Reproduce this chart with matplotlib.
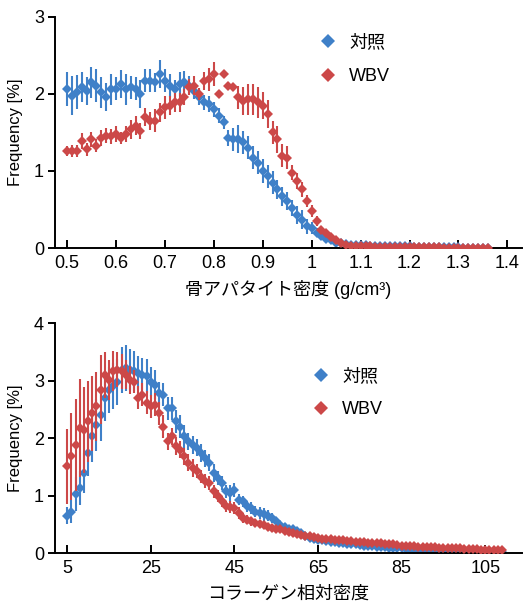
import numpy as np
import matplotlib
matplotlib.use('Agg')
import matplotlib.pyplot as plt
from matplotlib.lines import Line2D

plt.rcParams['font.family'] = ['Liberation Sans', 'Noto Sans CJK JP', 'DejaVu Sans']

BLUE = '#3f80c8'
RED = '#cc4848'

# ---- top panel: bone apatite density ----
top_x = np.round(np.arange(0.50, 1.365, 0.01), 2)
top_ticks = [0.5, 0.6, 0.7, 0.8, 0.9, 1.0, 1.1, 1.2, 1.3, 1.4]
top_ticklabels = ['0.5', '0.6', '0.7', '0.8', '0.9', '1', '1.1', '1.2', '1.3', '1.4']

ctrl_top = [2.06, 1.98, 2.02, 2.09, 2.04, 2.15, 2.11, 2.02, 1.96, 2.06,
            2.07, 2.13, 2.06, 2.09, 2.07, 2.00, 2.17, 2.17, 2.15, 2.26,
            2.17, 2.11, 2.06, 2.13, 2.15, 2.11, 2.04, 1.96, 1.89, 1.87,
            1.80, 1.72, 1.63, 1.43, 1.41, 1.42, 1.37, 1.30, 1.17, 1.11,
            1.00, 0.93, 0.85, 0.76, 0.67, 0.61, 0.52, 0.43, 0.37, 0.28,
            0.26, 0.20, 0.15, 0.12, 0.10, 0.07, 0.065, 0.05, 0.045, 0.04,
            0.04, 0.035, 0.03, 0.03, 0.03, 0.025, 0.025, 0.02, 0.02, 0.02,
            0.02, 0.015, 0.015, 0.015, 0.01, 0.01, 0.01, 0.01, 0.01, 0.008,
            0.008, 0.006, 0.006, 0.005, 0.005, 0.004, 0.004]
ctrl_top_err = [0.22, 0.25, 0.22, 0.20, 0.18, 0.20, 0.22, 0.20, 0.18, 0.20,
                0.15, 0.18, 0.20, 0.15, 0.15, 0.18, 0.15, 0.15, 0.12, 0.18,
                0.15, 0.15, 0.12, 0.15, 0.15, 0.12, 0.10, 0.10, 0.10, 0.10,
                0.10, 0.10, 0.08, 0.10, 0.15, 0.18, 0.15, 0.15, 0.15, 0.15,
                0.15, 0.15, 0.15, 0.12, 0.12, 0.12, 0.10, 0.12, 0.12, 0.10,
                0.08, 0.06, 0.05, 0.04, 0.03, 0.03, 0.03, 0.03, 0.03, 0.03,
                0.02, 0.02, 0.02, 0.02, 0.02, 0.02, 0.02, 0.02, 0.02, 0.02,
                0.015, 0.015, 0.015, 0.015, 0.015, 0.015, 0.015, 0.015, 0.015, 0.015,
                0.01, 0.01, 0.01, 0.01, 0.01, 0.01, 0.01]

wbv_top = [1.26, 1.26, 1.26, 1.39, 1.28, 1.41, 1.33, 1.43, 1.46, 1.45,
           1.48, 1.43, 1.48, 1.54, 1.59, 1.52, 1.70, 1.65, 1.65, 1.76,
           1.83, 1.85, 1.89, 1.89, 1.96, 2.09, 2.11, 2.00, 2.17, 2.19,
           2.26, 2.00, 2.26, 2.11, 2.09, 1.96, 1.91, 1.93, 1.93, 1.89,
           1.85, 1.74, 1.50, 1.41, 1.20, 1.17, 0.98, 0.87, 0.76, 0.61,
           0.48, 0.35, 0.24, 0.20, 0.14, 0.10, 0.065, 0.045, 0.03, 0.025,
           0.02, 0.02, 0.02, 0.015, 0.015, 0.015, 0.012, 0.012, 0.01, 0.01,
           0.01, 0.01, 0.008, 0.008, 0.008, 0.007, 0.007, 0.006, 0.006, 0.006,
           0.005, 0.005, 0.005, 0.004, 0.004, 0.004, 0.003]
wbv_top_err = [0.07, 0.08, 0.08, 0.10, 0.08, 0.10, 0.08, 0.10, 0.10, 0.10,
               0.10, 0.08, 0.10, 0.12, 0.12, 0.10, 0.12, 0.12, 0.15, 0.12,
               0.15, 0.12, 0.12, 0.12, 0.10, 0.10, 0.12, 0.08, 0.12, 0.15,
               0.15, 0.05, 0.05, 0.05, 0.05, 0.15, 0.18, 0.20, 0.20, 0.20,
               0.18, 0.18, 0.15, 0.18, 0.15, 0.15, 0.10, 0.10, 0.10, 0.08,
               0.08, 0.06, 0.05, 0.04, 0.03, 0.03, 0.02, 0.02, 0.02, 0.02,
               0.01, 0.01, 0.01, 0.01, 0.01, 0.01, 0.01, 0.01, 0.01, 0.01,
               0.01, 0.01, 0.01, 0.01, 0.01, 0.01, 0.01, 0.01, 0.01, 0.01,
               0.01, 0.01, 0.01, 0.01, 0.01, 0.01, 0.01]

# ---- bottom panel: collagen relative density ----
bot_x = np.arange(5, 110)
bot_ticks = [5, 25, 45, 65, 85, 105]

ctrl_bot = [0.65, 0.72, 1.03, 1.13, 1.39, 1.74, 2.03, 2.23, 2.40, 2.70,
            2.84, 2.91, 2.98, 3.19, 3.22, 3.19, 3.16, 3.13, 3.10, 3.08,
            2.98, 2.93, 2.78, 2.75, 2.52, 2.52, 2.29, 2.20, 2.03, 1.94,
            1.88, 1.83, 1.74, 1.65, 1.57, 1.39, 1.30, 1.22, 1.07, 1.04,
            1.10, 0.93, 0.90, 0.81, 0.78, 0.72, 0.70, 0.67, 0.65, 0.61,
            0.55, 0.49, 0.46, 0.42, 0.41, 0.39, 0.35, 0.30, 0.26, 0.24,
            0.23, 0.22, 0.21, 0.20, 0.19, 0.18, 0.17, 0.16, 0.15, 0.15,
            0.14, 0.13, 0.12, 0.12, 0.11, 0.10, 0.10, 0.09, 0.09, 0.08,
            0.08, 0.07, 0.07, 0.06, 0.06, 0.05, 0.05, 0.05, 0.04, 0.04,
            0.04, 0.04, 0.03, 0.03, 0.03, 0.03, 0.03, 0.03, 0.02, 0.02,
            0.02, 0.02, 0.02, 0.02, 0.02]
ctrl_bot_err = [0.15, 0.20, 0.30, 0.30, 0.35, 0.40, 0.45, 0.45, 0.45, 0.40,
                0.40, 0.40, 0.40, 0.40, 0.40, 0.35, 0.35, 0.30, 0.30, 0.30,
                0.25, 0.25, 0.20, 0.20, 0.20, 0.20, 0.20, 0.20, 0.20, 0.15,
                0.15, 0.15, 0.15, 0.15, 0.15, 0.15, 0.12, 0.12, 0.12, 0.15,
                0.12, 0.10, 0.10, 0.10, 0.10, 0.10, 0.10, 0.12, 0.10, 0.08,
                0.08, 0.06, 0.06, 0.06, 0.05, 0.05, 0.05, 0.05, 0.04, 0.04,
                0.03, 0.03, 0.03, 0.03, 0.03, 0.03, 0.03, 0.03, 0.03, 0.03,
                0.03, 0.03, 0.03, 0.03, 0.03, 0.02, 0.02, 0.02, 0.02, 0.02,
                0.02, 0.02, 0.02, 0.02, 0.02, 0.02, 0.02, 0.02, 0.02, 0.02,
                0.02, 0.02, 0.02, 0.02, 0.02, 0.02, 0.02, 0.02, 0.02, 0.02,
                0.02, 0.02, 0.02, 0.02, 0.02]

wbv_bot = [1.51, 1.68, 1.88, 2.17, 2.14, 2.29, 2.43, 2.55, 2.84, 3.10,
           3.01, 3.16, 3.19, 3.16, 3.10, 3.01, 2.98, 2.70, 2.75, 2.61,
           2.55, 2.58, 2.43, 2.20, 1.94, 2.03, 1.86, 1.80, 1.68, 1.57,
           1.48, 1.42, 1.33, 1.25, 1.22, 1.07, 0.99, 0.90, 0.81, 0.80,
           0.78, 0.70, 0.61, 0.58, 0.55, 0.53, 0.51, 0.49, 0.46, 0.43,
           0.42, 0.41, 0.38, 0.36, 0.35, 0.33, 0.31, 0.30, 0.29, 0.28,
           0.26, 0.25, 0.25, 0.24, 0.23, 0.22, 0.22, 0.21, 0.21, 0.20,
           0.20, 0.19, 0.18, 0.18, 0.17, 0.17, 0.16, 0.15, 0.15, 0.14,
           0.13, 0.13, 0.12, 0.12, 0.11, 0.11, 0.10, 0.10, 0.10, 0.09,
           0.09, 0.09, 0.08, 0.08, 0.08, 0.07, 0.07, 0.07, 0.07, 0.06,
           0.06, 0.06, 0.06, 0.05, 0.05]
wbv_bot_err = [0.65, 0.75, 0.80, 0.85, 0.75, 0.70, 0.65, 0.60, 0.60, 0.40,
               0.35, 0.35, 0.30, 0.30, 0.25, 0.25, 0.20, 0.20, 0.20, 0.20,
               0.20, 0.20, 0.20, 0.20, 0.15, 0.15, 0.15, 0.15, 0.15, 0.15,
               0.15, 0.12, 0.12, 0.12, 0.12, 0.12, 0.10, 0.10, 0.10, 0.10,
               0.10, 0.10, 0.08, 0.08, 0.08, 0.06, 0.06, 0.06, 0.05, 0.05,
               0.04, 0.04, 0.04, 0.04, 0.04, 0.04, 0.03, 0.03, 0.03, 0.03,
               0.03, 0.03, 0.03, 0.03, 0.03, 0.03, 0.03, 0.03, 0.03, 0.03,
               0.03, 0.03, 0.03, 0.03, 0.03, 0.03, 0.03, 0.03, 0.03, 0.03,
               0.02, 0.02, 0.02, 0.02, 0.02, 0.02, 0.02, 0.02, 0.02, 0.02,
               0.02, 0.02, 0.02, 0.02, 0.02, 0.02, 0.02, 0.02, 0.02, 0.02,
               0.02, 0.02, 0.02, 0.02, 0.02]

labels = ['対照', 'WBV']


def style_axes(ax):
    for s in ['top', 'right']:
        ax.spines[s].set_visible(False)
    for s in ['left', 'bottom']:
        ax.spines[s].set_linewidth(1.4)
    ax.tick_params(axis='x', direction='in', length=6, width=1.4, labelsize=13, pad=5)
    ax.tick_params(axis='y', direction='out', length=5, width=1.4, labelsize=13, pad=3)
    ax.set_ylabel('Frequency [%]', fontsize=12, labelpad=8)


def draw(ax, x, c, ce, w, we):
    ax.errorbar(x, c, yerr=ce, fmt='D', color=BLUE, ms=5.2, elinewidth=1.5,
                capsize=0, mew=0, zorder=2)
    ax.errorbar(x, w, yerr=we, fmt='D', color=RED, ms=5.2, elinewidth=1.5,
                capsize=0, mew=0, zorder=3)


def add_legend(ax, anchor):
    handles = [Line2D([], [], ls='none', marker='D', ms=7.5, mew=0, color=BLUE),
               Line2D([], [], ls='none', marker='D', ms=7.5, mew=0, color=RED)]
    ax.legend(handles, labels, loc='upper left', bbox_to_anchor=anchor,
              frameon=False, fontsize=13, labelspacing=0.9, handletextpad=0.6,
              handlelength=1.2, borderaxespad=0)


fig = plt.figure(figsize=(5.26, 6.04), dpi=100)

ax1 = fig.add_axes([0.1046, 0.5894, 0.888, 0.3825])
draw(ax1, top_x, ctrl_top, ctrl_top_err, wbv_top, wbv_top_err)
ax1.set_xlim(0.4755, 1.43)
ax1.set_ylim(0, 3)
ax1.set_xticks(top_ticks)
ax1.set_xticklabels(top_ticklabels)
ax1.set_yticks([0, 1, 2, 3])
style_axes(ax1)
ax1.set_xlabel('骨アパタイト密度 (g/cm³)', fontsize=13, labelpad=6)
add_legend(ax1, (0.545, 0.955))

ax2 = fig.add_axes([0.1046, 0.0844, 0.888, 0.3808])
draw(ax2, bot_x, ctrl_bot, ctrl_bot_err, wbv_bot, wbv_bot_err)
ax2.set_xlim(2.1, 113.8)
ax2.set_ylim(0, 4)
ax2.set_xticks(bot_ticks)
ax2.set_yticks([0, 1, 2, 3, 4])
style_axes(ax2)
ax2.set_xlabel('コラーゲン相対密度', fontsize=13, labelpad=6)
add_legend(ax2, (0.53, 0.835))

fig.savefig('out.png', dpi=100)
